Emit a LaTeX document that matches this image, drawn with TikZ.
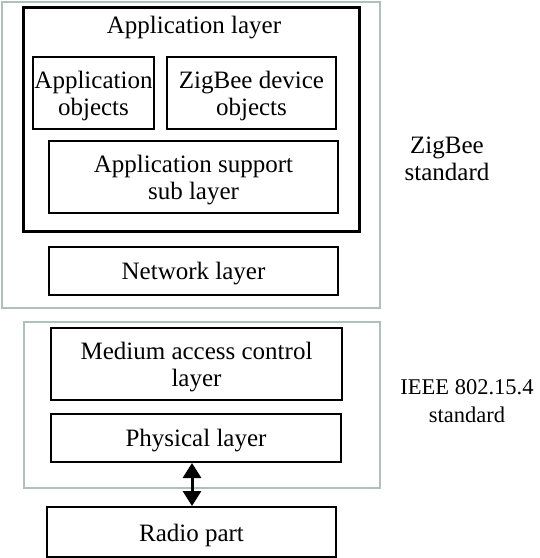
\documentclass[tikz,border=0pt]{standalone}
\usepackage{fontspec}
\setmainfont{Liberation Serif}
\usetikzlibrary{arrows.meta}
\definecolor{framegray}{RGB}{176,192,188}
\begin{document}
\begin{tikzpicture}[x=1pt,y=-1pt,
  font=\fontsize{25}{27.5}\selectfont,
  stdframe/.style={draw=framegray, line width=2pt, inner sep=0pt},
  lbltext/.style={align=center, inner sep=0pt, yshift=-3pt},
  layerbox/.style={draw=black, line width=2pt, inner sep=0pt, label={[lbltext]center:#1}},
  bigbox/.style={draw=black, line width=3pt, inner sep=0pt},
  plain/.style={align=center, inner sep=0pt}]
\useasboundingbox (0,0) rectangle (540,558);
% ZigBee standard frame
\node[stdframe, minimum width=378pt, minimum height=306pt] (zb) at (191,155) {};
\node[bigbox, minimum width=336pt, minimum height=224pt] (app) at (191,119) {};
\node[plain] (applbl) at (194,28) {Application layer};
\node[layerbox={Application\\objects}, minimum width=121pt, minimum height=72pt] (ao) at (93.5,93) {};
\node[layerbox={ZigBee device\\objects}, minimum width=169pt, minimum height=72pt] (zdo) at (251.5,93) {};
\node[layerbox={Application support\\sub layer}, minimum width=289pt, minimum height=72pt] (aps) at (193.5,177) {};
\node[layerbox={Network layer}, minimum width=289pt, minimum height=48pt] (nwk) at (193.5,271) {};
% IEEE frame
\node[stdframe, minimum width=356pt, minimum height=166pt] (ieee) at (202,405) {};
\node[layerbox={Medium access control\\layer}, minimum width=291pt, minimum height=72pt] (mac) at (196.5,364) {};
\node[layerbox={Physical layer}, minimum width=290pt, minimum height=48pt] (phy) at (196,438) {};
\node[layerbox={Radio part}, minimum width=289pt, minimum height=50pt] (radio) at (191.5,532) {};
% labels
\node[plain] (zblbl) at (447,159) {ZigBee\\standard};
\node[plain, font=\fontsize{22.5}{27.5}\selectfont] (ieeelbl) at (467,401) {IEEE 802.15.4\\standard};
% arrow
\coordinate (ax) at (192,0);
\draw[line width=3pt, {Triangle[width=18pt,length=15pt]}-{Triangle[width=18pt,length=15pt]}]
  (phy.south -| ax) -- (radio.north -| ax);
\end{tikzpicture}
\end{document}
